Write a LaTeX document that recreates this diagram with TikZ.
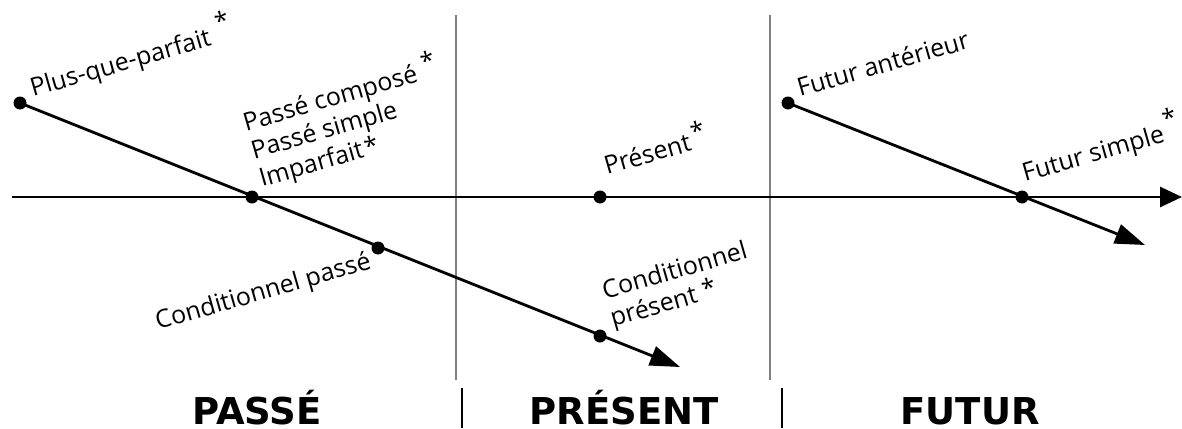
\documentclass[tikz,border=0pt]{standalone}
\usepackage{fontspec}
\setmainfont{Open Sans}
\newfontfamily\headfont{DejaVu Sans}
\usetikzlibrary{arrows.meta}

\newcommand{\etoile}[2]{\hspace{#1}\raisebox{#2}{*}}

\tikzset{
  dot/.style={circle, fill=black, inner sep=0pt, minimum size=13pt},
  tense/.style={font=\fontsize{25}{29}\selectfont, rotate=16, anchor=base west, inner sep=0pt, align=left},
  period/.style={font=\headfont\bfseries\fontsize{37}{40}\selectfont, anchor=base, inner sep=0pt},
  timeline/.style={line width=2.8pt, -{Triangle[length=22pt,width=20pt]}},
  tenseline/.style={line width=2.8pt, -{Triangle[length=30pt,width=20pt]}},
  sep/.style={gray, line width=1.3pt},
  bar/.style={black, line width=2.6pt}
}

\begin{document}
\begin{tikzpicture}[x=1pt, y=-1pt]
  \useasboundingbox (0,0) rectangle (1182,428);

  \draw[sep] (456,15) -- (456,380);
  \draw[sep] (770,15) -- (770,380);
  \draw[bar] (462,388) -- (462,428);
  \draw[bar] (782,388) -- (782,428);

  \coordinate (axL) at (12,197);
  \coordinate (axR) at (1182,197);
  \coordinate (tipA) at (680,367);
  \coordinate (tipB) at (1145,245);

  \node[dot] (pqp) at (20,103) {};
  \node[dot] (imp) at (252,197) {};
  \node[dot] (cpa) at (378,248) {};
  \node[dot] (cpr) at (600,336) {};
  \node[dot] (pres) at (600,197) {};
  \node[dot] (fant) at (788,103) {};
  \node[dot] (fsim) at (1022,197) {};

  \draw[timeline] (axL) -- (axR);
  \draw[tenseline] (pqp.center) -- (tipA);
  \draw[tenseline] (fant.center) -- (tipB);

  \node[tense] (lpqp) at ([shift={(13,-6)}]pqp) {Plus-que-parfait\etoile{9pt}{12pt}};
  \node[tense] (limp) at ([shift={(10,-10)}]imp) {Passé composé\etoile{7pt}{9pt}\\Passé simple\\Imparfait\etoile{2pt}{0pt}};
  \node[tense] (lcpa) at ([shift={(-220,82)}]cpa) {Conditionnel passé};
  \node[tense] (lcpr) at ([shift={(13,-9)}]cpr) {Conditionnel\\présent \etoile{0pt}{2pt}};
  \node[tense] (lpres) at ([shift={(7,-22)}]pres) {Présent\etoile{3pt}{8pt}};
  \node[tense] (lfant) at ([shift={(12,-6)}]fant) {Futur antérieur};
  \node[tense] (lfsim) at ([shift={(3,-15)}]fsim) {Futur simple\etoile{3pt}{13pt}};

  \node[period] (passe) at (257,424) {PASSÉ};
  \node[period] (present) at (624,424) {PRÉSENT};
  \node[period] (futur) at (970,424) {FUTUR};
\end{tikzpicture}
\end{document}
